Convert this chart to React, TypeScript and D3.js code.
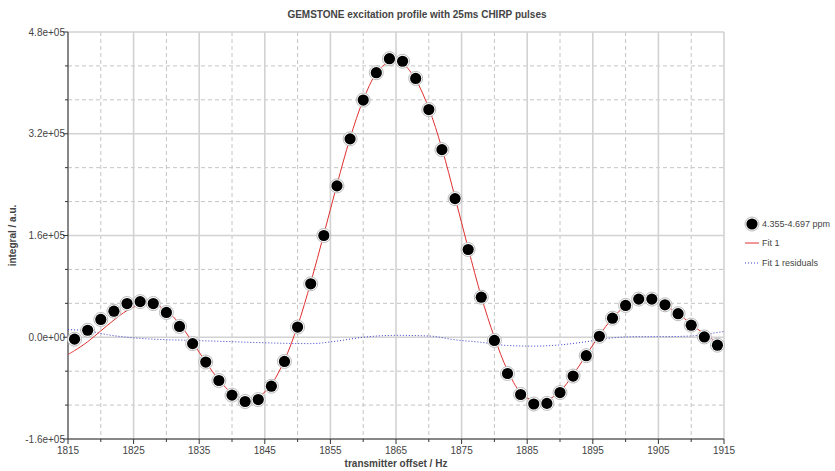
import React from "react";
import * as d3 from "d3";

// Measured integrals (4.355-4.697 ppm) against transmitter offset
const offsets: number[] = [
  1816, 1818, 1820, 1822, 1824, 1826, 1828, 1830, 1832, 1834,
  1836, 1838, 1840, 1842, 1844, 1846, 1848, 1850, 1852, 1854,
  1856, 1858, 1860, 1862, 1864, 1866, 1868, 1870, 1872, 1874,
  1876, 1878, 1880, 1882, 1884, 1886, 1888, 1890, 1892, 1894,
  1896, 1898, 1900, 1902, 1904, 1906, 1908, 1910, 1912, 1914,
];
const integrals: number[] = [
  -3000, 11000, 28000, 41000, 53000, 56000, 53000, 39000, 17000, -10000,
  -39000, -68000, -91000, -101000, -98000, -77000, -38000, 16000, 84000, 160000,
  238000, 312000, 373000, 416000, 438000, 434000, 407000, 358000, 295000, 218000,
  138000, 63000, -5000, -57000, -90000, -105000, -104000, -87000, -61000, -29000,
  1500, 30000, 50000, 60000, 60000, 51000, 37000, 19000, 500, -12500,
];

// Fit 1 curve
const fitX: number[] = [
  1815, 1816, 1818, 1820, 1822, 1824, 1826, 1828, 1830, 1832, 1834,
  1836, 1838, 1840, 1842, 1844, 1846, 1848, 1850, 1852, 1854,
  1856, 1858, 1860, 1862, 1864, 1866, 1868, 1870, 1872, 1874,
  1876, 1878, 1880, 1882, 1884, 1886, 1888, 1890, 1892, 1894,
  1896, 1898, 1900, 1902, 1904, 1906, 1908, 1910, 1912, 1914,
];
const fitY: number[] = [
  -27000, -21000, -7000, 10000, 27000, 42000, 51000, 52000, 42000, 21000, -8000,
  -39000, -67000, -88000, -98000, -94000, -74000, -36000, 18000, 86000, 162000,
  240000, 313000, 373000, 415000, 433000, 430000, 405000, 360000, 297000, 220000,
  140000, 64000, 0, -52000, -87000, -100000, -99000, -85000, -59000, -28000,
  3000, 30000, 49000, 59000, 58000, 50000, 37000, 21000, 5000, -8000,
];

// Fit 1 residuals
const residX: number[] = [
  1815, 1818, 1821, 1824, 1828, 1834, 1840, 1846, 1852, 1856, 1860,
  1865, 1870, 1874, 1878, 1882, 1886, 1890, 1894, 1898, 1902, 1906,
  1910, 1913, 1915,
];
const residY: number[] = [
  12000, 10000, 4000, 0, -3000, -5000, -7000, -9000, -10000, -6000, 0,
  3000, 2000, -4000, -8000, -13000, -14000, -12000, -7000, -1000, 1000, 1000,
  2000, 6000, 9000,
];

const xTickLabels: number[] = [1815, 1825, 1835, 1845, 1855, 1865, 1875, 1885, 1895, 1905, 1915];
const yTickLabels: number[] = [-160000, 0, 160000, 320000, 480000];

const W = 835;
const H = 471;
const margin = { left: 68, right: 111, top: 32, bottom: 32 };
const FONT = "'Liberation Sans', Arial, sans-serif";
const TEXT = "#444";

export default function App() {
  const x = d3.scaleLinear().domain([1815, 1915]).range([margin.left, W - margin.right]);
  const y = d3.scaleLinear().domain([-160000, 480000]).range([H - margin.bottom, margin.top]);

  const [x0, x1] = x.range();
  const [y0, y1] = y.range();

  const xMinor = d3.range(1820, 1915, 10);
  const yStep = 160000 / 3;
  const yMinor = d3.range(-160000, 480001, yStep).filter(
    (v) => Math.abs(v / 160000 - Math.round(v / 160000)) > 1e-6
  );

  const fitLine = d3
    .line<number>()
    .x((_, i) => x(fitX[i]))
    .y((d) => y(d))
    .curve(d3.curveCatmullRom.alpha(0.5));
  const residLine = d3
    .line<number>()
    .x((_, i) => x(residX[i]))
    .y((d) => y(d))
    .curve(d3.curveMonotoneX);

  const fmt = (v: number) => {
    if (v === 0) return "0.0e+00";
    const s = d3.format(".1e")(v); // e.g. 4.8e+5
    return s.replace(/e([+-])(\d)$/, "e$10$2").replace("−", "-");
  };

  return (
    <div style={{ position: "fixed", left: 0, top: 0 }}>
      <svg width={W} height={H} style={{ display: "block", background: "#fff" }} fontFamily={FONT}>
        {/* grid */}
        {yMinor.map((v) => (
          <line key={"ym" + v} x1={x0} x2={x1} y1={y(v)} y2={y(v)} stroke="#c4c4c4" strokeDasharray="4,3" />
        ))}
        {xMinor.map((v) => (
          <line key={"xm" + v} x1={x(v)} x2={x(v)} y1={y1} y2={y0} stroke="#c4c4c4" strokeDasharray="4,3" />
        ))}
        {yTickLabels.map((v) => (
          <line key={"yM" + v} x1={x0} x2={x1} y1={y(v)} y2={y(v)} stroke="#d2d2d2" strokeWidth={1.6} />
        ))}
        {xTickLabels.map((v) => (
          <line key={"xM" + v} x1={x(v)} x2={x(v)} y1={y1} y2={y0} stroke="#d2d2d2" strokeWidth={1.6} />
        ))}

        {/* axes */}
        <line x1={x0} x2={x0} y1={y1} y2={y0} stroke="#333" />
        <line x1={x0} x2={x1} y1={y0} y2={y0} stroke="#333" />
        {yTickLabels.map((v) => (
          <g key={"yt" + v}>
            <line x1={x0 - 5} x2={x0} y1={y(v)} y2={y(v)} stroke="#333" />
            <text x={x0 - 3} y={y(v) + 3.5} fontSize={10} textAnchor="end" fill={TEXT}>
              {fmt(v)}
            </text>
          </g>
        ))}
        {yMinor.map((v) => (
          <line key={"ymt" + v} x1={x0 - 3} x2={x0} y1={y(v)} y2={y(v)} stroke="#333" />
        ))}
        {xTickLabels.map((v) => (
          <g key={"xt" + v}>
            <line x1={x(v)} x2={x(v)} y1={y0} y2={y0 + 5} stroke="#333" />
            <text x={x(v)} y={y0 + 15} fontSize={10} textAnchor="middle" fill={TEXT}>
              {v}
            </text>
          </g>
        ))}
        {xMinor.map((v) => (
          <line key={"xmt" + v} x1={x(v)} x2={x(v)} y1={y0} y2={y0 + 3} stroke="#333" />
        ))}

        {/* residuals */}
        <path d={residLine(residY) || ""} fill="none" stroke="#3b3bd0" strokeWidth={1} strokeDasharray="1,2" />
        {/* fit */}
        <path d={fitLine(fitY) || ""} fill="none" stroke="#e03030" strokeWidth={1} />

        {/* data points */}
        {integrals.map((v, i) => (
          <g key={"p" + i}>
            <circle cx={x(offsets[i])} cy={y(v)} r={7} fill="#fff" stroke="#bbb" strokeWidth={1} />
            <circle cx={x(offsets[i])} cy={y(v)} r={5.6} fill="#000" />
          </g>
        ))}

        {/* titles */}
        <text x={417} y={18} fontSize={10} fontWeight="bold" textAnchor="middle" fill={TEXT}>
          GEMSTONE excitation profile with 25ms CHIRP pulses
        </text>
        <text x={(x0 + x1) / 2} y={467} fontSize={10} fontWeight="bold" textAnchor="middle" fill={TEXT}>
          transmitter offset / Hz
        </text>
        <text
          transform={`translate(16,${(y0 + y1) / 2}) rotate(-90)`}
          fontSize={10}
          fontWeight="bold"
          textAnchor="middle"
          fill={TEXT}
        >
          integral / a.u.
        </text>

        {/* legend */}
        <g fontSize={9} fill={TEXT}>
          <circle cx={752} cy={224} r={7} fill="#fff" stroke="#bbb" />
          <circle cx={752} cy={224} r={5.6} fill="#000" />
          <text x={762} y={227}>4.355-4.697 ppm</text>
          <line x1={745} x2={759} y1={243} y2={243} stroke="#e03030" />
          <text x={762} y={246}>Fit 1</text>
          <line x1={745} x2={759} y1={263} y2={263} stroke="#3b3bd0" strokeDasharray="1,2" />
          <text x={762} y={266}>Fit 1 residuals</text>
        </g>
      </svg>
    </div>
  );
}
